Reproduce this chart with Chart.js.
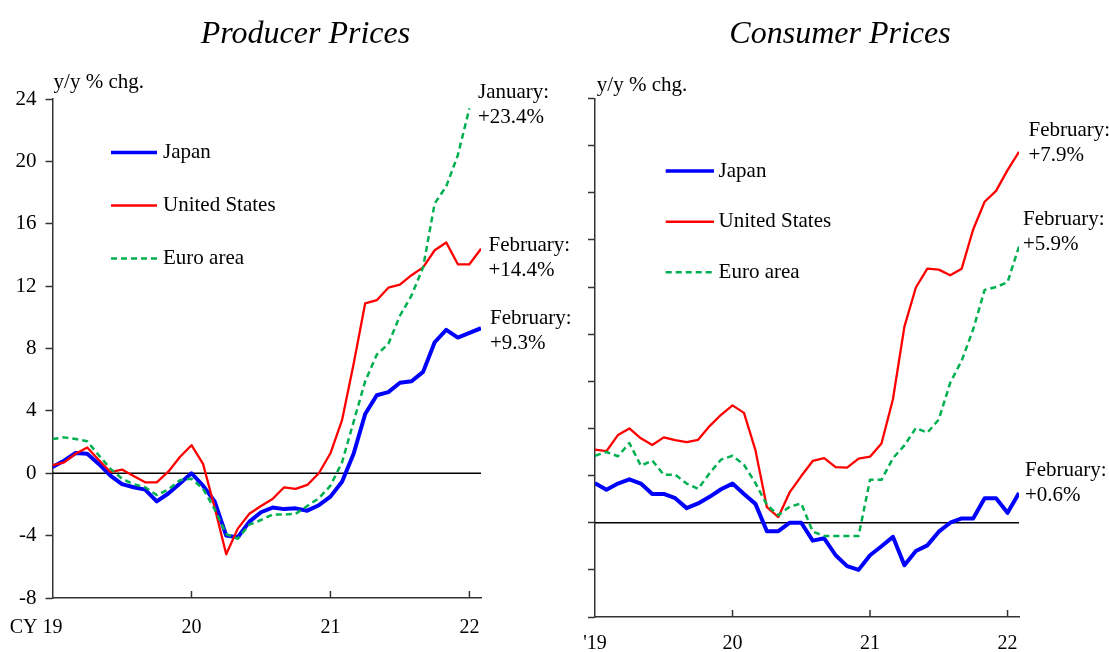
<!DOCTYPE html>
<html>
<head>
<meta charset="utf-8">
<script src="https://cdn.jsdelivr.net/npm/chart.js@4.4.1/dist/chart.umd.min.js"></script>
<style>
html,body{margin:0;padding:0;background:#fff;}
#wrap{position:relative;width:1109px;height:652px;overflow:hidden;background:#fff;}
canvas{position:absolute;top:0;}
</style>
</head>
<body>
<div id="wrap">
<canvas id="ppi" width="580" height="652" style="left:0px;width:580px;height:652px"></canvas>
<canvas id="cpi" width="569" height="652" style="left:540px;width:569px;height:652px"></canvas>
</div>
<script>
// ---- data (monthly, Jan 2019 .. Feb 2022) ----
const xTickMonths = [0, 12, 24, 36];
const ppiXLabels = ["19", "20", "21", "22"];
const cpiXLabels = ["'19", "20", "21", "22"];
const seriesNames = ["Japan", "United States", "Euro area"];

const ppiJapan = [0.4, 0.8, 1.3, 1.25, 0.6, -0.15, -0.7, -0.9, -1.05, -1.8, -1.3, -0.65,
  0.0, -0.8, -1.8, -4.0, -4.1, -3.1, -2.5, -2.2, -2.3, -2.25, -2.4, -2.05,
  -1.5, -0.55, 1.25, 3.8, 5.0, 5.2, 5.8, 5.9, 6.5, 8.4, 9.2, 8.7, 9.0, 9.3];
const ppiUS = [0.5, 0.7, 1.25, 1.65, 0.85, 0.08, 0.24, -0.17, -0.58, -0.58, 0.1, 1.04,
  1.8, 0.6, -2.2, -5.2, -3.55, -2.6, -2.1, -1.65, -0.9, -1.0, -0.75, 0.0,
  1.28, 3.4, 7.0, 10.9, 11.1, 11.9, 12.1, 12.7, 13.2, 14.3, 14.8, 13.4, 13.4, 14.4];
const ppiEuro = [2.2, 2.3, 2.2, 2.05, 1.15, 0.3, -0.35, -0.7, -0.9, -1.4, -1.05, -0.45,
  -0.35, -1.0, -2.3, -3.9, -4.2, -3.3, -3.0, -2.65, -2.65, -2.6, -2.1, -1.6,
  -0.8, 0.7, 3.3, 5.9, 7.6, 8.3, 10.1, 11.4, 13.2, 17.3, 18.4, 20.4, 23.4, null];

const cpiJapan = [0.84, 0.7, 0.83, 0.92, 0.83, 0.61, 0.61, 0.52, 0.31, 0.41, 0.55, 0.71,
  0.83, 0.61, 0.4, -0.18, -0.18, 0.0, 0.0, -0.38, -0.33, -0.69, -0.92, -1.0,
  -0.69, -0.5, -0.3, -0.9, -0.6, -0.48, -0.19, 0.0, 0.09, 0.09, 0.52, 0.52, 0.21, 0.63];
const cpiUS = [1.55, 1.52, 1.86, 2.0, 1.79, 1.65, 1.81, 1.75, 1.71, 1.76, 2.05, 2.29,
  2.49, 2.33, 1.54, 0.33, 0.12, 0.65, 0.99, 1.31, 1.37, 1.18, 1.17, 1.36,
  1.4, 1.68, 2.62, 4.16, 4.99, 5.39, 5.37, 5.25, 5.39, 6.22, 6.81, 7.04, 7.48, 7.87];
const cpiEuro = [1.42, 1.5, 1.41, 1.69, 1.21, 1.32, 1.02, 1.02, 0.83, 0.72, 1.05, 1.34,
  1.42, 1.23, 0.84, 0.38, 0.16, 0.34, 0.41, -0.19, -0.28, -0.28, -0.28, -0.28,
  0.91, 0.91, 1.37, 1.64, 2.01, 1.91, 2.19, 2.97, 3.44, 4.1, 4.94, 5.0, 5.1, 5.86];

const ppiNotes = [["January:", "+23.4%"], ["February:", "+14.4%"], ["February:", "+9.3%"]];
const cpiNotes = [["February:", "+7.9%"], ["February:", "+5.9%"], ["February:", "+0.6%"]];
const titles = ["Producer Prices", "Consumer Prices"];
const unitLabel = "y/y % chg.";
const ppiPrefix = "CY";

// ---- helpers ----
const SERIF = '"Liberation Serif", "Times New Roman", serif';
const toPts = arr => arr.map((v, i) => ({x: i, y: v}));

function makeDatasets(jp, us, eu) {
  return [
    {label: seriesNames[0], data: toPts(jp), borderColor: '#0000FF', borderWidth: 4, order: 3},
    {label: seriesNames[1], data: toPts(us), borderColor: '#FF0000', borderWidth: 2.3, order: 2},
    {label: seriesNames[2], data: toPts(eu), borderColor: '#00B050', borderWidth: 2.5, borderDash: [6, 4], order: 1}
  ].map(d => Object.assign(d, {pointRadius: 0, fill: false, tension: 0, borderJoinStyle: 'round', spanGaps: false}));
}

const deco = {
  id: 'deco',
  beforeDatasetsDraw(chart, args, o) {
    const {ctx, chartArea: a, scales: {x, y}} = chart;
    ctx.save();
    const y0 = y.getPixelForValue(0);
    ctx.strokeStyle = '#000'; ctx.lineWidth = 1.5;
    ctx.beginPath(); ctx.moveTo(a.left, y0); ctx.lineTo(a.right, y0); ctx.stroke();
    ctx.strokeStyle = '#333'; ctx.lineWidth = 1.5;
    x.ticks.forEach(t => {
      if (t.value === x.min) return;
      const px = x.getPixelForValue(t.value);
      ctx.beginPath(); ctx.moveTo(px, a.bottom); ctx.lineTo(px, a.bottom - 7); ctx.stroke();
    });
    ctx.restore();
  },
  afterDraw(chart, args, o) {
    const {ctx, chartArea: a, scales: {x}} = chart;
    ctx.save();
    ctx.fillStyle = '#000';
    ctx.font = 'italic 32px ' + SERIF;
    ctx.textAlign = 'center'; ctx.textBaseline = 'alphabetic';
    ctx.fillText(o.title, o.titleX, 42.5);
    ctx.font = '21px ' + SERIF;
    ctx.textAlign = 'left'; ctx.textBaseline = 'middle';
    ctx.fillText(unitLabel, o.unit[0], o.unit[1]);
    // legend
    chart.data.datasets.forEach((d, i) => {
      const ly = o.legend.y[i];
      ctx.save();
      ctx.strokeStyle = d.borderColor;
      ctx.lineWidth = i === 0 ? 3.5 : 2.5;
      ctx.setLineDash(d.borderDash || []);
      ctx.beginPath(); ctx.moveTo(o.legend.x0, ly); ctx.lineTo(o.legend.x1, ly); ctx.stroke();
      ctx.restore();
      ctx.font = '21px ' + SERIF;
      ctx.fillText(d.label, o.legend.tx, ly);
    });
    // notes
    ctx.font = '21px ' + SERIF;
    o.notes.forEach((n, i) => {
      const p = o.notePos[i];
      ctx.fillText(n[0], p[0], p[1]);
      ctx.fillText(n[1], p[0], p[1] + 25);
    });
    if (o.prefix) {
      ctx.font = '20px ' + SERIF;
      ctx.textAlign = 'right';
      ctx.fillText(o.prefix, x.getPixelForValue(0) - 15, a.bottom + o.xPad + 20);
    }
    ctx.restore();
  }
};

function makeChart(id, datasets, cfg) {
  cfg.deco.xPad = cfg.xPad;
  return new Chart(document.getElementById(id), {
    type: 'line',
    data: {datasets},
    plugins: [deco],
    options: {
      responsive: false, animation: false, devicePixelRatio: 1,
      layout: {padding: cfg.padding},
      plugins: {legend: {display: false}, tooltip: {enabled: false}, title: {display: false}, deco: cfg.deco},
      scales: {
        x: {
          type: 'linear', min: 0, max: 37,
          afterBuildTicks: s => { s.ticks = xTickMonths.map(v => ({value: v})); },
          afterFit: s => { s.height = cfg.xHeight; },
          grid: {display: false},
          border: {display: true, color: '#333', width: 1.5},
          ticks: {autoSkip: false, maxRotation: 0, padding: cfg.xPad, color: '#000',
            font: {family: SERIF, size: 20},
            callback: (v, i) => cfg.xLabels[i]}
        },
        y: {
          min: cfg.yMin, max: cfg.yMax,
          afterFit: s => { s.width = cfg.yWidth; },
          grid: {drawOnChartArea: false, drawTicks: true, tickLength: 7, tickColor: '#333', tickWidth: 1.5},
          border: {display: true, color: '#333', width: 1.5},
          ticks: {display: cfg.yLabels, stepSize: cfg.yStep, padding: 9, color: '#000',
            font: {family: SERIF, size: 21}}
        }
      }
    }
  });
}

makeChart('ppi', makeDatasets(ppiJapan, ppiUS, ppiEuro), {
  padding: {left: 0, right: 99, top: 99, bottom: 0},
  xHeight: 54, yWidth: 52.5, xPad: 10, yMin: -8, yMax: 24, yStep: 4, yLabels: true,
  xLabels: ppiXLabels,
  deco: {
    title: titles[0], titleX: 305.5, unit: [53.6, 82.5],
    legend: {x0: 111, x1: 157, tx: 163, y: [152.5, 205.5, 258.5]},
    notes: ppiNotes, notePos: [[478, 92], [488.5, 245], [490, 318]],
    prefix: ppiPrefix
  }
});

makeChart('cpi', makeDatasets(cpiJapan, cpiUS, cpiEuro), {
  padding: {left: 0, right: 90, top: 98.5, bottom: 0},
  xHeight: 35, yWidth: 55, xPad: 7, yMin: -2, yMax: 9, yStep: 1, yLabels: false,
  xLabels: cpiXLabels,
  deco: {
    title: titles[1], titleX: 300, unit: [56.8, 85],
    legend: {x0: 125.7, x1: 174, tx: 178.6, y: [171, 221.7, 272.3]},
    notes: cpiNotes, notePos: [[488.5, 130], [483, 219], [485, 470]],
    prefix: null
  }
});
</script>
</body>
</html>
